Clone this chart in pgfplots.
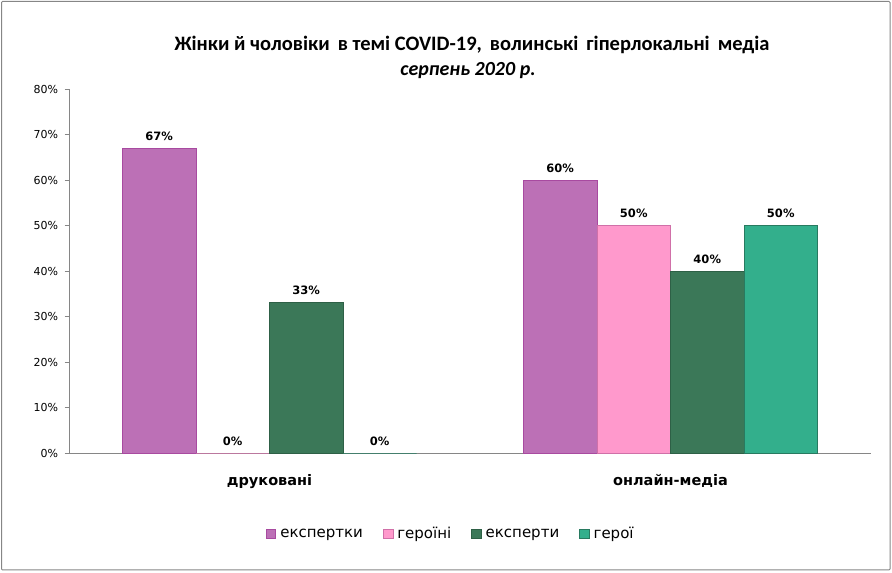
\documentclass[border=0pt]{standalone}
\usepackage{pgfplots}
\pgfplotsset{compat=1.18}
\usepackage{fontspec}
\setmainfont{DejaVu Sans}
\newfontfamily\carlito{Carlito}
\definecolor{c1}{HTML}{BC70B6}
\definecolor{c1e}{HTML}{A84AA0}
\definecolor{c2}{HTML}{FF99CC}
\definecolor{c2e}{HTML}{D070A8}
\definecolor{c3}{HTML}{3B7858}
\definecolor{c3e}{HTML}{2E6046}
\definecolor{c4}{HTML}{33AF8C}
\definecolor{c4e}{HTML}{287A60}
\definecolor{axgray}{HTML}{868686}
\begin{document}
\begin{tikzpicture}[x=1pt,y=1pt]
\useasboundingbox (0,0) rectangle (892,573);
\draw[axgray, line width=1pt, rounded corners=1pt] (1.5,3) rectangle (890,571.5);
\node[font=\carlito\bfseries\fontsize{20.5}{22}\selectfont] at (472,528) {Жінки й чоловіки\, в темі COVID-19,\, волинські\, гіперлокальні\, медіа};
\node[font=\carlito\bfseries\itshape\fontsize{20}{22}\selectfont] at (468,502) {серпень 2020 р.};
\begin{axis}[
  at={(69pt,120pt)}, anchor=south west,
  scale only axis, width=802pt, height=364pt,
  ybar=0pt, bar width=73.5pt,
  xmin=-0.5, xmax=1.5, ymin=0, ymax=80,
  axis x line=bottom, axis y line=left,
  axis line style={axgray, line width=0.9pt, -},
  every tick/.style={axgray, line width=0.9pt},
  tick align=outside,
  ytick={0,10,...,80},
  yticklabels={0\%,10\%,20\%,30\%,40\%,50\%,60\%,70\%,80\%},
  major tick length=4.5pt,
  yticklabel style={font=\fontsize{11}{12}\selectfont, xshift=-3pt},
  xtick={0,1},
  xticklabels={друковані,онлайн-медіа},
  xticklabel style={font=\bfseries\fontsize{14.5}{16}\selectfont, yshift=-13pt},
  x tick style={draw=none},
  minor xtick={-0.5,0.5,1.5},
  minor tick length=5pt,
  minor x tick style={axgray, line width=0.9pt},
  /pgf/number format/assume math mode=true,
  nodes near coords={\pgfmathprintnumber{\pgfplotspointmeta}\%},
  every node near coord/.append style={font=\bfseries\fontsize{11.5}{13}\selectfont, anchor=south, yshift=4pt, text=black},
  legend columns=4,
  legend style={at={(0.476,-0.2225)}, anchor=center, draw=none, fill=none,
    font=\fontsize{15}{17}\selectfont,
    /tikz/every odd column/.append style={column sep=2pt},
    /tikz/every even column/.append style={column sep=18pt}},
  legend image code/.code={\draw[#1] (0pt,-4.8pt) rectangle (9.6pt,4.8pt);},
  clip=false,
]
\addplot[fill=c1, draw=c1e, line width=0.8pt] coordinates {(0,67) (1,60)};
\addplot[fill=c2, draw=c2e, line width=0.8pt] coordinates {(0,0) (1,50)};
\addplot[fill=c3, draw=c3e, line width=0.8pt] coordinates {(0,33) (1,40)};
\addplot[fill=c4, draw=c4e, line width=0.8pt] coordinates {(0,0) (1,50)};
\legend{експертки,героїні,експерти,герої}
\end{axis}
\end{tikzpicture}
\end{document}
